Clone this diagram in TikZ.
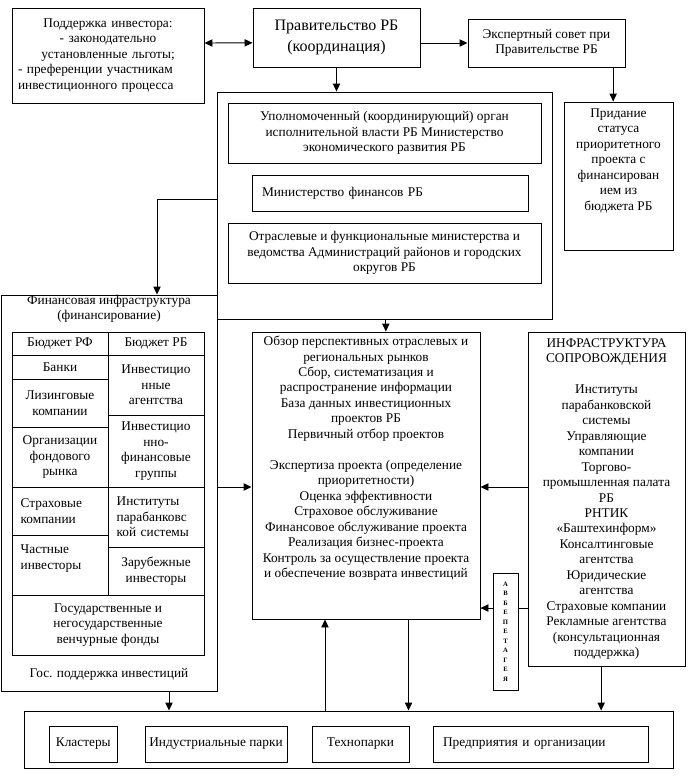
\documentclass[tikz,border=0pt]{standalone}
\usepackage{fontspec}
\setmainfont{Liberation Serif}
\usetikzlibrary{positioning,arrows.meta}

\begin{document}
\begin{tikzpicture}[x=0.75pt,y=-0.75pt,
  box/.style={draw, line width=0.7pt, inner sep=2pt, align=center, font={\fontsize{10}{11.6}\selectfont}},
  txt/.style={inner sep=0pt, align=center, font={\fontsize{10}{11.6}\selectfont}},
  cell/.style={box, minimum width=72pt},
  lcell/.style={box, minimum width=72pt, text width=59pt, inner xsep=6.5pt, align=left},
  arr/.style={line width=0.7pt, -{Triangle[length=6pt,width=5.5pt]}},
  dbl/.style={line width=0.7pt, {Triangle[length=6pt,width=5.5pt]}-{Triangle[length=6pt,width=5.5pt]}},
  lnk/.style={line width=0.7pt}]
\useasboundingbox (0,0) rectangle (687,776);

\node[box, minimum width=144pt, minimum height=71.25pt, text width=135pt, inner xsep=4.5pt, align=left] (inv) at (108,55.5)
  {\makebox[135pt][c]{Поддержка инвестора:}\\\makebox[135pt][c]{- законодательно}\\\makebox[135pt][c]{установленные льготы;}\\- преференции участникам\\инвестиционного процесса};
\node[box, minimum width=125.25pt, minimum height=44.25pt, font={\fontsize{12}{16}\selectfont}] (gov) at (336.5,37.5)
  {Правительство РБ\\(координация)};
\node[box, minimum width=117.75pt, minimum height=36pt] (exp) at (546.5,43)
  {Экспертный совет при\\Правительстве РБ};
\node[box, inner sep=0pt] (prid) at (618.5,176)
  {\parbox[c][111pt][t]{81.75pt}{\centering\vspace*{5pt}Придание\\статуса\\приоритетного\\проекта с\\финансирован\\ием из\\бюджета РБ}};

\node[draw, lnk, minimum width=251.25pt, minimum height=170.25pt, inner sep=0pt] (org) at (384.5,205.5) {};
\node[box, minimum width=234.75pt, minimum height=45pt] (upol) at (384.5,133)
  {Уполномоченный (координирующий) орган\\исполнительной власти РБ Министерство\\экономического развития РБ};
\node[box, minimum width=207pt, minimum height=27pt, text width=192pt, inner xsep=7.5pt, align=left] (minfin) at (390,193)
  {Министерство финансов РБ};
\node[box, minimum width=234.75pt, minimum height=45pt] (otr) at (384.5,253)
  {Отраслевые и функциональные министерства и\\ведомства Администраций районов и городских\\округов РБ};

\node[draw, lnk, minimum width=162pt, minimum height=297pt, inner sep=0pt] (finfr) at (109,493) {};
\node[txt, below=0pt of finfr.north] (fintitle) {Финансовая инфраструктура\\(финансирование)};
\node[txt, above=8pt of finfr.south] (gos) {Гос. поддержка инвестиций};
\node[cell, minimum height=17.25pt] (brf) at (60,343.5) {Бюджет РФ};
\node[cell, minimum height=18pt] (bank) at (60,367) {Банки};
\node[cell, minimum height=36pt] (leas) at (60,403) {Лизинговые\\компании};
\node[cell, minimum height=45pt] (fond) at (60,457) {Организации\\фондового\\рынка};
\node[lcell, minimum height=36pt] (strah) at (60,511) {Страховые\\компании};
\node[lcell, minimum height=45pt] (chast) at (60,565) {Частные\\инвесторы\\~};
\node[cell, minimum height=17.25pt] (brb) at (156,343.5) {Бюджет РБ};
\node[cell, minimum height=45pt] (iag) at (156,385) {Инвестицио\\нные\\агентства};
\node[cell, minimum height=54pt] (ifg) at (156,451) {Инвестицио\\нно-\\финансовые\\группы};
\node[lcell, minimum height=45pt] (ipar) at (156,517) {Институты\\парабанковс\\кой системы};
\node[cell, minimum height=36pt] (zar) at (156,571) {Зарубежные\\инвесторы};
\node[box, minimum width=144pt, minimum height=45pt] (vent) at (108,625)
  {Государственные и\\негосударственные\\венчурные фонды};

\node[box, inner sep=0pt] (cent) at (366,475.5)
  {\parbox[c][215.25pt][t]{171pt}{\centering\vspace*{3pt}Обзор перспективных отраслевых и\\региональных рынков\\Сбор, систематизация и\\распространение информации\\База данных инвестиционных\\проектов РБ\\Первичный отбор проектов\\[11.6pt]Экспертиза проекта (определение\\приоритетности)\\Оценка эффективности\\Страховое обслуживание\\Финансовое обслуживание проекта\\Реализация бизнес-проекта\\Контроль за осуществление проекта\\и обеспечение возврата инвестиций}};

\node[box, minimum width=117.75pt, minimum height=250.5pt] (infra) at (606.5,499)
  {ИНФРАСТРУКТУРА\\СОПРОВОЖДЕНИЯ\\[11.6pt]Институты\\парабанковской\\системы\\Управляющие\\компании\\Торгово-\\промышленная палата\\РБ\\РНТИК\\«Баштехинформ»\\Консалтинговые\\агентства\\Юридические\\агентства\\Страховые компании\\Рекламные агентства\\(консультационная\\поддержка)};
\node[box, minimum width=18.75pt, minimum height=87.75pt, inner sep=0pt, font={\fontsize{5}{7.1}\selectfont\bfseries}] (adv) at (505.5,631.5)
  {А\\В\\Б\\Е\\П\\Е\\Т\\А\\Г\\Е\\Я};

\node[draw, lnk, minimum width=486.75pt, minimum height=42.75pt, inner sep=0pt] (bot) at (348.5,739.5) {};
\node[box, minimum width=51.4pt, minimum height=27pt] (clus) at (83.25,744) {Кластеры};
\node[box, minimum width=106.5pt, minimum height=27pt] (ind) at (216,744) {Индустриальные парки};
\node[box, minimum width=72.75pt, minimum height=27pt] (tech) at (360.5,744) {Технопарки};
\node[box, minimum width=161.25pt, minimum height=27pt, text width=146.25pt, inner xsep=7.5pt, align=left] (pred) at (540.5,744)
  {Предприятия и организации};

\draw[dbl] (inv.east |- 0,43) -- ([yshift=-4pt]gov.west);
\draw[arr] (gov.east |- exp.west) -- (exp.west);
\draw[arr] ([xshift=-4pt]prid.north |- exp.south) -- ([xshift=-4pt]prid.north);
\draw[arr] (gov.south) -- (gov.south |- org.north);
\draw[arr] ([yshift=4.9pt]org.west) -| ([xshift=36pt]finfr.north);
\draw[arr] ([xshift=1pt]org.south) -- ([xshift=1pt]org.south |- cent.north);
\draw[arr] ([yshift=4.5pt]finfr.east) -- ([yshift=4.5pt]finfr.east -| cent.west);
\draw[arr] ([yshift=9pt]infra.west) -- ([yshift=9pt]infra.west -| cent.east);
\draw[lnk] ([yshift=17.6pt]adv.east) -- ([yshift=17.6pt]adv.east -| infra.west);
\draw[arr] ([yshift=17.6pt]adv.west) -- ([yshift=17.6pt]adv.west -| cent.east);
\draw[arr] ([xshift=45pt]finfr.south) -- ([xshift=45pt]finfr.south |- bot.north);
\draw[arr] ([xshift=-30.75pt]cent.south |- bot.north) -- ([xshift=-30.75pt]cent.south);
\draw[arr] ([xshift=31.9pt]cent.south) -- ([xshift=31.9pt]cent.south |- bot.north);
\draw[arr] ([xshift=-4pt]infra.south) -- ([xshift=-4pt]infra.south |- bot.north);
\end{tikzpicture}
\end{document}
